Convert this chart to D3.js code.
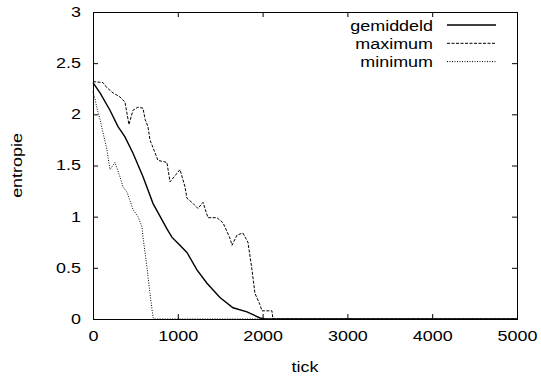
<!DOCTYPE html>
<html lang="nl">
	<head>
		<meta charset="utf-8">
		<title>entropie per tick</title>
		<script src="https://d3js.org/d3.v7.min.js" charset="utf-8"></script>
		<style type="text/css">
		body { margin: 0; background: #fff; }
		.lbl {
		font-family: "Liberation Sans", Arial, Helvetica, sans-serif;
		font-size: 14px;
		fill: #000;
		}
		</style>
	</head>
	<body>
		<div id="chart"></div>
		<script>
			var width = 541;
			var height = 377;

			// values (tick, entropie)
			var gemiddeld = [[0,2.31],[83,2.21],[200,2.04],[295,1.88],[377,1.78],[472,1.62],[590,1.39],
				[707,1.13],[872,0.88],[930,0.8],[990,0.75],[1108,0.65],[1226,0.48],[1344,0.35],[1497,0.21],
				[1651,0.11],[1816,0.07],[1969,0.01],[2030,0],[5000,0]];
			var maximum = [[0,2.32],[118,2.31],[165,2.26],[236,2.21],[318,2.17],[377,2.12],[424,1.9],
				[472,2.04],[530,2.07],[589,2.06],[615,1.95],[648,1.88],[672,1.75],[766,1.55],[872,1.53],
				[908,1.34],[1026,1.46],[1085,1.29],[1108,1.18],[1179,1.13],[1238,1.08],[1297,1.14],
				[1356,0.99],[1462,0.99],[1533,0.94],[1615,0.79],[1639,0.72],[1698,0.82],[1768,0.84],
				[1827,0.75],[1875,0.48],[1910,0.25],[1969,0.14],[1992,0.08],[2110,0.08],[2122,0],[5000,0]];
			var minimum = [[0,2.22],[24,2.15],[47,2.06],[83,1.95],[165,1.65],[200,1.46],[259,1.53],
				[318,1.39],[354,1.29],[401,1.24],[472,1.07],[530,1.0],[578,0.9],[590,0.8],[637,0.5],
				[672,0.25],[707,0.02],[720,0],[5000,0]];

			var xTicks = [0, 1000, 2000, 3000, 4000, 5000];
			var yTicks = [0, 0.5, 1, 1.5, 2, 2.5, 3];
			var series = [
				{name: "gemiddeld", values: gemiddeld, dash: null, w: 1.4},
				{name: "maximum", values: maximum, dash: "3,1.5", w: 1},
				{name: "minimum", values: minimum, dash: "1,1.5", w: 1}
			];

			var margin = {left: 93, right: 24, top: 12, bottom: 58};
			var stretch = 1.28; // the reference font is wider than Liberation Sans

			var svg = d3.select("div#chart")
				.append("svg")
				.attr("width", width)
				.attr("height", height);

			var x = d3.scaleLinear()
				.domain([0, 5000])
				.range([margin.left, width - margin.right]);
			var y = d3.scaleLinear()
				.domain([0, 3])
				.range([height - margin.bottom, margin.top]);

			// axes, gnuplot style: ticks inward on all four sides
			svg.append("g")
				.attr("transform", "translate(0," + y(0) + ")")
				.call(d3.axisBottom(x).tickValues(xTicks).tickSize(-5).tickPadding(12).tickFormat(d3.format("d")))
				.call(function(g) { g.select(".domain").remove(); });
			svg.append("g")
				.attr("transform", "translate(0," + y(3) + ")")
				.call(d3.axisTop(x).tickValues(xTicks).tickSize(-5).tickFormat(""))
				.call(function(g) { g.select(".domain").remove(); });
			svg.append("g")
				.attr("transform", "translate(" + x(0) + ",0)")
				.call(d3.axisLeft(y).tickValues(yTicks).tickSize(-5).tickPadding(12).tickFormat(d3.format("")))
				.call(function(g) { g.select(".domain").remove(); });
			svg.append("g")
				.attr("transform", "translate(" + x(5000) + ",0)")
				.call(d3.axisRight(y).tickValues(yTicks).tickSize(-5).tickFormat(""))
				.call(function(g) { g.select(".domain").remove(); });

			svg.selectAll(".tick text")
				.attr("class", "lbl")
				.attr("font-family", null)
				.attr("font-size", null);
			svg.selectAll(".tick line").attr("stroke", "#000");

			svg.append("rect")
				.attr("x", x(0) + 0.5)
				.attr("y", y(3) + 0.5)
				.attr("width", x(5000) - x(0))
				.attr("height", y(0) - y(3))
				.attr("fill", "none")
				.attr("stroke", "#000");

			var line = d3.line()
				.x(function(d) { return x(d[0]); })
				.y(function(d) { return y(d[1]); });

			svg.selectAll("path.series")
				.data(series)
				.enter().append("path")
				.attr("class", "series")
				.attr("d", function(d) { return line(d.values); })
				.attr("fill", "none")
				.attr("stroke", "#000")
				.attr("stroke-width", function(d) { return d.w; })
				.attr("stroke-dasharray", function(d) { return d.dash; });

			// legend
			var lg = svg.append("g")
				.selectAll("g")
				.data(series)
				.enter().append("g");
			lg.append("text")
				.attr("class", "lbl")
				.attr("x", 433)
				.attr("y", function(d, i) { return 31 + i * 18; })
				.attr("text-anchor", "end")
				.text(function(d) { return d.name; });
			lg.append("line")
				.attr("x1", 447).attr("x2", 496)
				.attr("y1", function(d, i) { return 25 + i * 18.3; })
				.attr("y2", function(d, i) { return 25 + i * 18.3; })
				.attr("stroke", "#000")
				.attr("stroke-width", function(d) { return d.w; })
				.attr("stroke-dasharray", function(d) { return d.dash; });

			// axis titles
			svg.append("text")
				.attr("class", "lbl")
				.attr("x", (x(0) + x(5000)) / 2)
				.attr("y", 372)
				.attr("text-anchor", "middle")
				.text("tick");
			svg.append("text")
				.attr("class", "lbl")
				.attr("transform", "translate(22," + y(1.5) + ") rotate(-90)")
				.attr("text-anchor", "middle")
				.text("entropie");

			// widen all text to match the reference glyphs
			svg.selectAll("text.lbl").each(function() {
				var len = this.getComputedTextLength();
				d3.select(this)
					.attr("textLength", len * stretch)
					.attr("lengthAdjust", "spacingAndGlyphs");
			});
		</script>
	</body>
</html>
